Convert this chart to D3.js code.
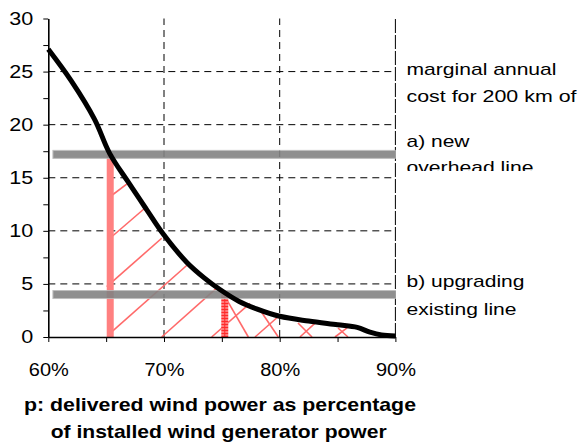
<!DOCTYPE html>
<html>
<head>
<meta charset="utf-8">
<script src="https://cdn.jsdelivr.net/npm/d3@7"></script>
<style>
  body { margin: 0; background: #fff; }
  svg { display: block; font-family: "Liberation Sans", Arial, sans-serif; }
</style>
</head>
<body>
<svg width="579" height="443"></svg>
<script>
// delivered wind power p (%) and marginal annual cost
const pValues = [60, 62, 64, 65.3, 66.9, 68.5, 70, 72, 73.5, 74.8, 76.5, 78, 80, 82.5, 85, 86.7, 87.8, 88.8, 90];
const costValues = [27.1, 24.1, 20.5, 17.3, 14.6, 12.0, 9.6, 7.0, 5.55, 4.5, 3.35, 2.65, 1.95, 1.5, 1.15, 0.9, 0.45, 0.18, 0.1];

// marginal cost levels: a) new overhead line, b) upgrading existing line
const lineCosts = [17.2, 4.0];
const lineStartP = 60.4;

// red bars where the curve meets the cost levels
const barP = [65.05, 74.95];
const barCost = [17.2, 4.0];

// hatch strokes under the curve [p1, c1, p2, c2]
const hatchForward = [
  [65.33, 13.21, 67.06, 14.63],
  [65.33, 9.30, 68.44, 12.22],
  [65.05, 4.74, 69.80, 9.30],
  [65.33, 0.35, 72.01, 6.78],
  [69.80, 0, 74.69, 4.74],
  [74.12, 0, 77.43, 3.17],
  [77.87, 0, 80.03, 2.07],
  [81.75, 0, 83.20, 1.44],
  [84.78, 0, 85.82, 0.85]
];
const hatchBack = [
  [75.27, 3.80, 77.29, 0],
  [78.30, 2.54, 79.88, 0],
  [81.58, 1.32, 82.79, 0],
  [85.04, 0.85, 85.90, 0]
];

const yTicks = d3.range(0, 30.01, 2.5);
const xTicks = [60, 65, 70, 75, 80, 85, 90];
const yGrid = [5, 10, 15, 20, 25];
const xGrid = [70, 80];

const notes = [
  {text: "marginal annual", y: 75, w: 150},
  {text: "cost for 200 km of", y: 102, w: 170},
  {text: "a) new", y: 147, w: 63},
  {text: "overhead line", y: 173, w: 127, clip: true},
  {text: "b) upgrading", y: 287, w: 118},
  {text: "existing line", y: 315, w: 110}
];
const titleLines = ["p: delivered wind power as percentage", "of installed wind generator power"];

const svg = d3.select("svg");
const x = d3.scaleLinear().domain([60, 90]).range([48.3, 395.4]);
const y = d3.scaleLinear().domain([0, 30]).range([337, 18.5]);

const defs = svg.append("defs");
const pat = defs.append("pattern").attr("id", "grid").attr("patternUnits", "userSpaceOnUse")
  .attr("width", 7).attr("height", 3).attr("x", x(barP[1]));
pat.append("rect").attr("width", 7).attr("height", 3).attr("fill", "#ff7a7a");
pat.append("line").attr("x1", 0).attr("x2", 7).attr("y1", 0.5).attr("y2", 0.5).attr("stroke", "#ff2a2a").attr("stroke-width", 1);
pat.append("line").attr("x1", 3.5).attr("x2", 3.5).attr("y1", 0).attr("y2", 3).attr("stroke", "#ff2a2a").attr("stroke-width", 1);

defs.append("clipPath").attr("id", "noteclip").append("rect")
  .attr("x", 400).attr("y", 150).attr("width", 179).attr("height", 21);

// grid
svg.append("g").selectAll("line").data(yGrid).join("line")
  .attr("x1", x(60)).attr("x2", x(90)).attr("y1", d => y(d)).attr("y2", d => y(d))
  .attr("stroke", "#000").attr("stroke-width", 1).attr("stroke-dasharray", "7,5");
svg.append("g").selectAll("line").data(xGrid).join("line")
  .attr("x1", d => x(d)).attr("x2", d => x(d)).attr("y1", y(0)).attr("y2", y(30))
  .attr("stroke", "#000").attr("stroke-width", 1).attr("stroke-dasharray", "7,5");
svg.append("line")
  .attr("x1", x(90)).attr("x2", x(90)).attr("y1", y(0)).attr("y2", y(30))
  .attr("stroke", "#000").attr("stroke-width", 1).attr("stroke-dasharray", "14,2");

// hatching
const hatch = svg.append("g").attr("stroke", "#ff6a6a").attr("stroke-width", 1.6);
hatch.selectAll("line").data(hatchForward.concat(hatchBack)).join("line")
  .attr("x1", d => x(d[0])).attr("y1", d => y(d[1]))
  .attr("x2", d => x(d[2])).attr("y2", d => y(d[3]));

// red bars
svg.append("rect").attr("x", x(barP[0])).attr("width", 7)
  .attr("y", y(barCost[0])).attr("height", y(0) - y(barCost[0])).attr("fill", "#ff8080");
svg.append("rect").attr("x", x(barP[1])).attr("width", 7)
  .attr("y", y(barCost[1])).attr("height", y(0) - y(barCost[1])).attr("fill", "url(#grid)");

// cost levels
svg.append("g").selectAll("rect").data(lineCosts).join("rect")
  .attr("x", x(lineStartP)).attr("width", x(90) - x(lineStartP))
  .attr("y", d => y(d) - 4).attr("height", 8)
  .attr("fill", "#838383").attr("stroke", "#b8b8b8").attr("stroke-width", 1).attr("opacity", 0.9);

// axes
const yAxis = d3.axisLeft(y).tickValues(yTicks).tickSize(5).tickSizeOuter(0).tickPadding(10)
  .tickFormat(d => d % 5 === 0 ? d : "");
const xAxis = d3.axisBottom(x).tickValues(xTicks).tickSize(5).tickSizeOuter(0).tickPadding(21)
  .tickFormat(d => d % 10 === 0 ? d + "%" : "");

const gy = svg.append("g").attr("transform", `translate(${x(60)},0)`).call(yAxis);
const gx = svg.append("g").attr("transform", `translate(0,${y(0)})`).call(xAxis);
[gy, gx].forEach(g => {
  g.select(".domain").attr("stroke-width", 1.6);
  g.selectAll("text").attr("font-size", 18).attr("font-family", "Liberation Sans, Arial, sans-serif").attr("fill", "#000");
});
gy.selectAll("text").filter(d => d % 5 === 0)
  .attr("textLength", d => String(d).length * 12).attr("lengthAdjust", "spacingAndGlyphs");
gx.selectAll("text").filter(d => d % 10 === 0)
  .attr("textLength", 40).attr("lengthAdjust", "spacingAndGlyphs");

// curve
const line = d3.line().x(d => x(d[0])).y(d => y(d[1])).curve(d3.curveCatmullRom.alpha(0.5));
svg.append("path").datum(pValues.map((p, i) => [p, costValues[i]]))
  .attr("d", line).attr("fill", "none").attr("stroke", "#000").attr("stroke-width", 5)
  .attr("stroke-linejoin", "round");

// annotations
svg.append("g").selectAll("text").data(notes).join("text")
  .attr("x", 406.5).attr("y", d => d.y).attr("font-size", 17)
  .attr("textLength", d => d.w).attr("lengthAdjust", "spacingAndGlyphs")
  .attr("clip-path", d => d.clip ? "url(#noteclip)" : null)
  .text(d => d.text);

svg.append("g").selectAll("text").data(titleLines).join("text")
  .attr("x", (d, i) => i === 0 ? 24 : 50.7).attr("y", (d, i) => 411 + i * 26.5)
  .attr("font-size", 19).attr("font-weight", "bold")
  .attr("textLength", (d, i) => i === 0 ? 392 : 336).attr("lengthAdjust", "spacingAndGlyphs")
  .text(d => d);
</script>
</body>
</html>
